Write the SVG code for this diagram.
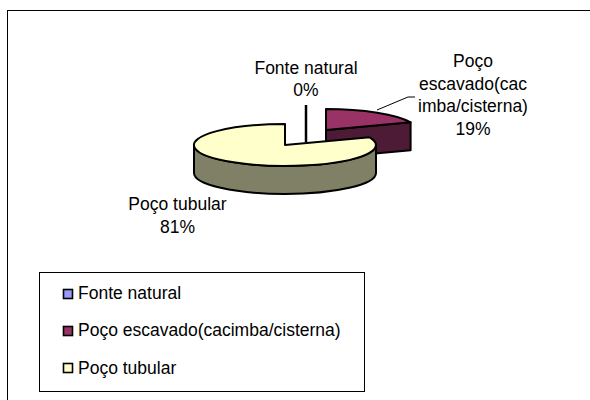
<svg xmlns="http://www.w3.org/2000/svg" width="590" height="400" viewBox="0 0 590 400">
<style>
text{font-family:"Liberation Sans",Arial,sans-serif;font-size:17.5px;fill:#000}
.c{text-anchor:middle}
.ol{stroke:#000;stroke-width:2;stroke-linejoin:round}
.mk{stroke:#000;stroke-width:1.6}
</style>
<rect width="590" height="400" fill="#fff"/>
<rect x="7.5" y="10.5" width="600" height="400" fill="none" stroke="#000" stroke-width="1"/>
<g id="slice-escavado">
<path class="ol" d="M326,130 L410.6,122.3 L410.6,150.3 L326,158 Z" fill="#4d1b35"/>
<path class="ol" d="M326,130 L326,109 A91 21 0 0 1 410.6,122.3 Z" fill="#993366"/>
</g>
<g id="slice-fonte">
<line x1="306" y1="105" x2="306" y2="142" stroke="#000" stroke-width="2.5"/>
</g>
<g id="slice-tubular">
<path class="ol" d="M376,145 A91 21 0 0 1 194,145 L194,173 A91 21 0 0 0 376,173 Z" fill="#808066"/>
<path class="ol" d="M285,145 L369.6,137.3 A91 21 0 1 1 285,124 Z" fill="#ffffcc"/>
</g>
<g id="connectors">
<polyline points="377,110 408,97 415,97" fill="none" stroke="#000" stroke-width="1"/>
</g>
<g id="labels">
<text class="c" x="306" y="74">Fonte natural</text>
<text class="c" x="306" y="96">0%</text>
<text class="c" x="473" y="67">Poço</text>
<text class="c" x="473" y="89.7">escavado(cac</text>
<text class="c" x="473" y="112.3">imba/cisterna)</text>
<text class="c" x="473" y="135">19%</text>
<text class="c" x="177.5" y="210">Poço tubular</text>
<text class="c" x="177.5" y="233">81%</text>
</g>
<g id="legend">
<rect x="39.5" y="272.5" width="325" height="119" fill="#fff" stroke="#000" stroke-width="1"/>
<rect class="mk" x="63.5" y="289.5" width="9" height="9" fill="#9999ff"/>
<text x="78" y="299">Fonte natural</text>
<rect class="mk" x="63.5" y="326.5" width="9" height="9" fill="#993366"/>
<text x="78" y="336.3">Poço escavado(cacimba/cisterna)</text>
<rect class="mk" x="63.5" y="363.5" width="9" height="9" fill="#ffffcc"/>
<text x="78" y="373.5">Poço tubular</text>
</g>
</svg>
